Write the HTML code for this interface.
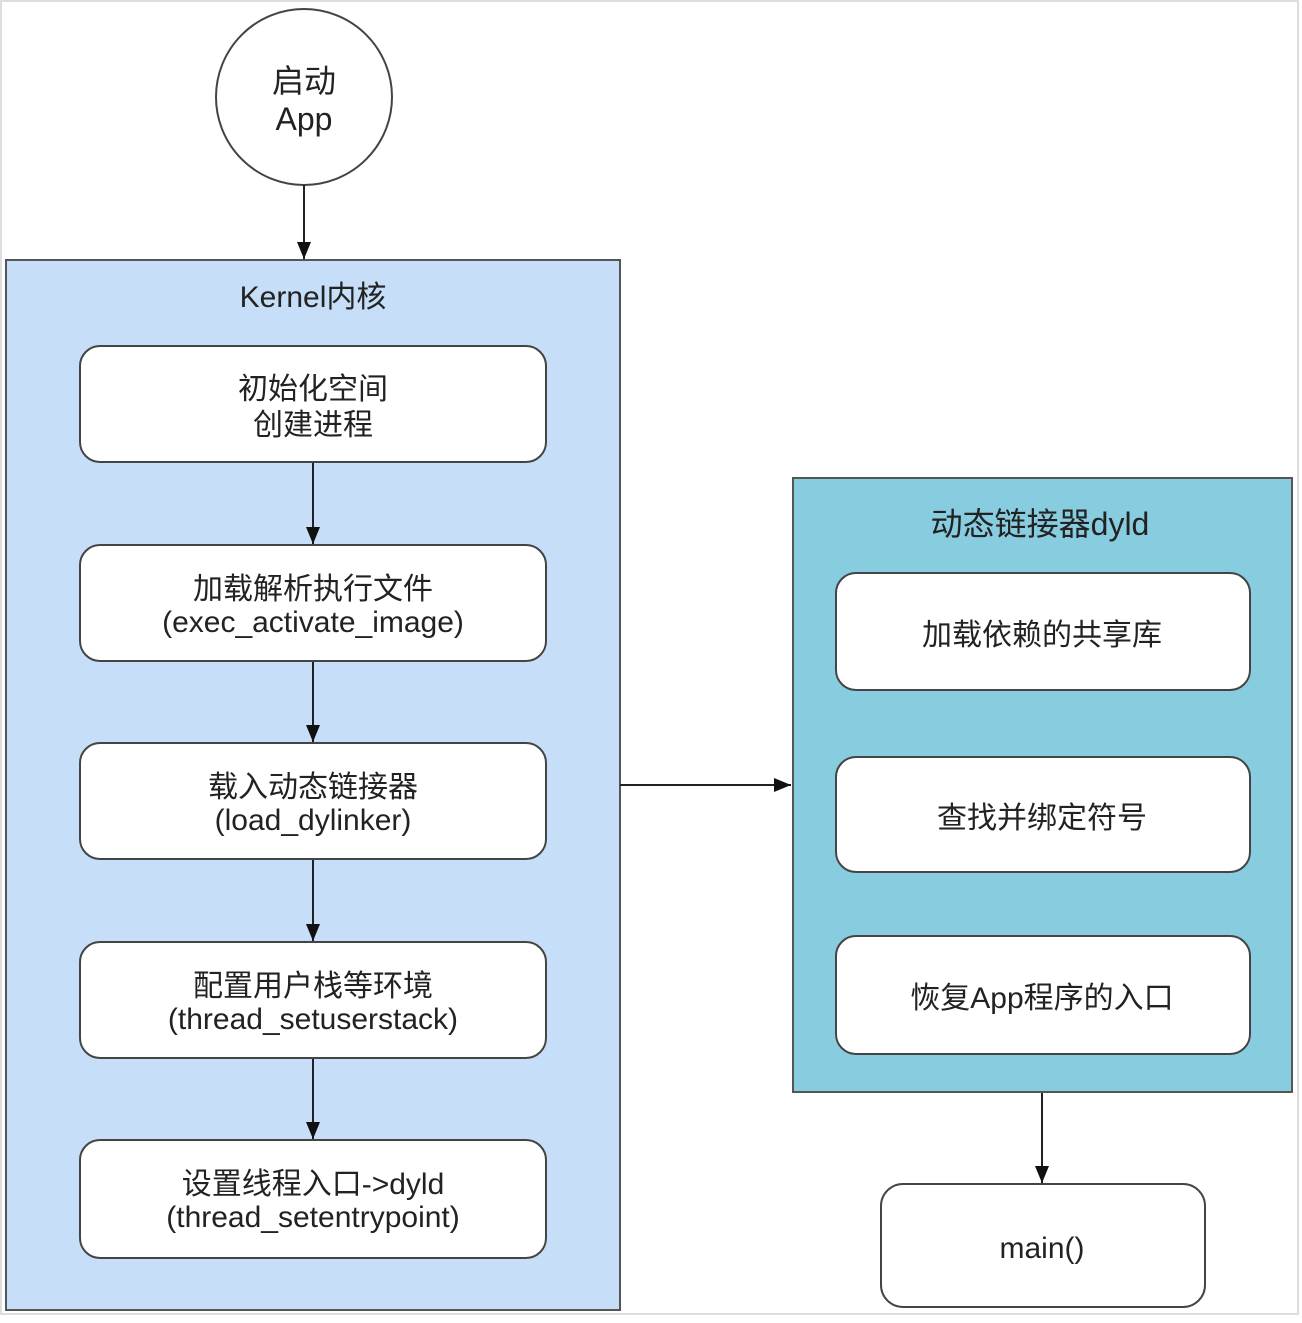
<!DOCTYPE html>
<html><head><meta charset="utf-8"><style>
html,body{margin:0;padding:0;background:#fff;}
svg text{font-family:"Liberation Sans","Noto Sans CJK SC",sans-serif;fill:#222;text-anchor:middle;}
</style></head><body>
<svg width="1302" height="1318" viewBox="0 0 1302 1318" xmlns="http://www.w3.org/2000/svg">
<defs><marker id="a" markerWidth="10" markerHeight="10" refX="9" refY="5" orient="auto" markerUnits="userSpaceOnUse"><path d="M0,0 L10,5 L0,10 z" fill="#111"/></marker>
<marker id="b" markerWidth="18" markerHeight="18" refX="17" refY="7" orient="auto" markerUnits="userSpaceOnUse"><path d="M0,0 L17,7 L0,14 z" fill="#111"/></marker></defs>
<rect x="1" y="1" width="1297" height="1313" fill="#fff" stroke="#ddd" stroke-width="2"/>
<circle cx="304" cy="97" r="88" fill="#fff" stroke="#444" stroke-width="2"/>
<text x="304" y="92" font-size="32">启动</text>
<text x="304" y="130" font-size="32">App</text>
<line x1="304" y1="185" x2="304" y2="259" stroke="#222" stroke-width="2" marker-end="url(#b)"/>
<rect x="6" y="260" width="614" height="1050" fill="#c6def7" stroke="#555" stroke-width="2"/>
<text x="313" y="307" font-size="30">Kernel内核</text>
<g stroke="#222" stroke-width="2">
<line x1="313" y1="462" x2="313" y2="544" marker-end="url(#b)"/>
<line x1="313" y1="661" x2="313" y2="742" marker-end="url(#b)"/>
<line x1="313" y1="859" x2="313" y2="941" marker-end="url(#b)"/>
<line x1="313" y1="1058" x2="313" y2="1139" marker-end="url(#b)"/>
<line x1="620" y1="785" x2="791" y2="785" marker-end="url(#b)"/>
<line x1="1042" y1="690" x2="1042" y2="756" marker-end="url(#b)"/>
<line x1="1042" y1="872" x2="1042" y2="935" marker-end="url(#b)"/>
<line x1="1042" y1="1092" x2="1042" y2="1183" marker-end="url(#b)"/>
</g>
<g fill="#fff" stroke="#444" stroke-width="2">
<rect x="80" y="346" width="466" height="116" rx="20"/>
<rect x="80" y="545" width="466" height="116" rx="20"/>
<rect x="80" y="743" width="466" height="116" rx="20"/>
<rect x="80" y="942" width="466" height="116" rx="20"/>
<rect x="80" y="1140" width="466" height="118" rx="20"/>
</g>
<g font-size="30">
<text x="313" y="399">初始化空间</text><text x="313" y="435">创建进程</text>
<text x="313" y="599">加载解析执行文件</text><text x="313" y="632">(exec_activate_image)</text>
<text x="313" y="797">载入动态链接器</text><text x="313" y="830">(load_dylinker)</text>
<text x="313" y="996">配置用户栈等环境</text><text x="313" y="1029">(thread_setuserstack)</text>
<text x="313" y="1194">设置线程入口->dyld</text><text x="313" y="1227">(thread_setentrypoint)</text>
</g>
<rect x="793" y="478" width="499" height="614" fill="#88cce0" stroke="#555" stroke-width="2"/>
<text x="1040" y="535" font-size="32">动态链接器dyld</text>
<g fill="#fff" stroke="#444" stroke-width="2">
<rect x="836" y="573" width="414" height="117" rx="20"/>
<rect x="836" y="757" width="414" height="115" rx="20"/>
<rect x="836" y="936" width="414" height="118" rx="20"/>
<rect x="881" y="1184" width="324" height="123" rx="22"/>
</g>
<g font-size="30">
<text x="1042" y="645">加载依赖的共享库</text>
<text x="1042" y="828">查找并绑定符号</text>
<text x="1042" y="1008">恢复App程序的入口</text>
<text x="1042" y="1258">main()</text>
</g>
</svg>
</body></html>
